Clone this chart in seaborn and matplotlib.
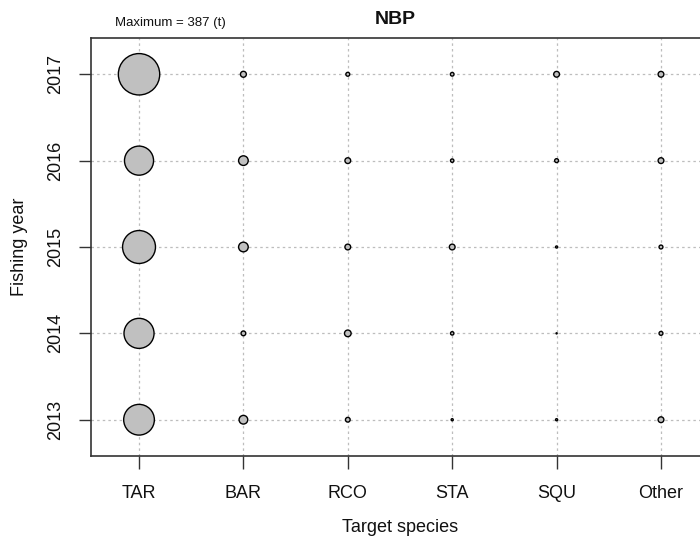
import matplotlib
matplotlib.use("Agg")
import matplotlib.pyplot as plt
import seaborn as sns
import pandas as pd

# ---- data (catch in tonnes) ----
species = ["TAR", "BAR", "RCO", "STA", "SQU", "Other"]
years = [2013, 2014, 2015, 2016, 2017]
TAR = [213, 204, 245, 191, 387]
BAR = [17, 5, 21, 21, 8]
RCO = [5, 10, 7.5, 7.5, 3.4]
STA = [1.0, 2.6, 7.5, 2.6, 3.0]
SQU = [1.0, 0.3, 1.0, 3.4, 7.5]
OTHER = [7.5, 3.4, 3.4, 7.5, 7.5]
series = [TAR, BAR, RCO, STA, SQU, OTHER]

rows = []
for sp, vals in zip(species, series):
    for yr, v in zip(years, vals):
        rows.append({"species": sp, "year": yr, "catch": v})
df = pd.DataFrame(rows)
vmax = df["catch"].max()

sns.set_style("white")
plt.rcParams["font.family"] = ["Liberation Sans", "DejaVu Sans"]

fig = plt.figure(figsize=(7, 5.42), dpi=100)
ax = fig.add_axes([91 / 700, 1 - 456 / 542, (709 - 91) / 700, 418 / 542])

ax.grid(True, color="#BDBDBD", linestyle=(0, (2, 2.5)), linewidth=0.9)
ax.set_axisbelow(True)

sns.scatterplot(data=df, x="species", y="year", size="catch",
                sizes=(0, 888), size_norm=(0, vmax), legend=False,
                color="#C0C0C0", edgecolor="black", linewidth=1.0,
                ax=ax, zorder=3, clip_on=False)

ax.set_xlim(-0.46, 5.46)
ax.set_ylim(2012.58, 2017.42)
ax.set_yticks(years)
ax.set_yticklabels([str(y) for y in years])

for s in ax.spines.values():
    s.set_color("#333333")
    s.set_linewidth(1.2)

ax.tick_params(axis="both", which="major", bottom=True, left=True,
               direction="out", length=9, width=1.0,
               color="#333333", labelsize=13, labelcolor="#111111")
ax.tick_params(axis="x", pad=12)
ax.tick_params(axis="y", labelrotation=90, pad=10)
for lbl in ax.get_yticklabels():
    lbl.set_va("center")

ax.set_xlabel("Target species", fontsize=13, color="#111111")
ax.set_ylabel("Fishing year", fontsize=13, color="#111111")
ax.xaxis.set_label_coords(0.5, (456 - 527) / 418)
ax.xaxis.label.set_va("center")
ax.yaxis.set_label_coords((20 - 91) / 618, 0.5)
ax.yaxis.label.set_va("center")

fig.text(395 / 700, 1 - 20 / 542, "NBP", ha="center", va="center",
         fontsize=14, fontweight="bold", color="#111111")
fig.text(115 / 700, 1 - 23 / 542, f"Maximum = {vmax:.0f} (t)", ha="left",
         va="center", fontsize=9.5, color="#111111")

fig.savefig("out.png", dpi=100)
